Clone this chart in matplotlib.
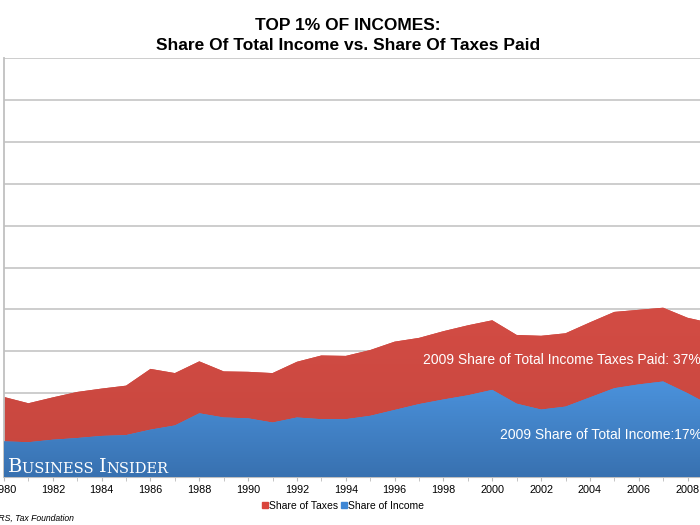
import numpy as np
import matplotlib
matplotlib.use("Agg")
import matplotlib.pyplot as plt
from matplotlib.colors import LinearSegmentedColormap
from matplotlib.lines import Line2D

plt.rcParams["font.family"] = ["Liberation Sans", "DejaVu Sans"]

years = np.arange(1980, 2010)
share_of_taxes = [19.1, 17.6, 19.0, 20.3, 21.1, 21.8, 25.8, 24.8, 27.6, 25.2,
                  25.1, 24.8, 27.5, 29.0, 28.9, 30.3, 32.3, 33.2, 34.8, 36.2,
                  37.4, 33.9, 33.7, 34.3, 36.9, 39.4, 39.9, 40.4, 38.0, 36.7]
share_of_income = [8.5, 8.3, 8.9, 9.3, 9.8, 10.0, 11.3, 12.3, 15.2, 14.2,
                   14.0, 13.0, 14.2, 13.8, 13.8, 14.6, 16.0, 17.4, 18.5, 19.5,
                   20.8, 17.5, 16.1, 16.8, 19.0, 21.2, 22.1, 22.8, 20.0, 16.9]
year_ticks = list(range(1980, 2010, 2))

red_top, red_bot = "#d34c44", "#c6463e"
blue_top, blue_bot = "#4b92dc", "#3871b0"


def gradient_area(ax, x, y, c_top, c_bot, z):
    poly = ax.fill_between(x, 0, y, color=c_top, lw=0, zorder=z)
    cmap = LinearSegmentedColormap.from_list("g", [c_bot, c_top])
    grad = np.linspace(0, 1, 256).reshape(-1, 1)
    im = ax.imshow(grad, cmap=cmap, aspect="auto", origin="lower",
                   extent=[x[0], x[-1], 0, max(y)], zorder=z + 0.1)
    im.set_clip_path(poly.get_paths()[0], ax.transData)


fig = plt.figure(figsize=(7, 5.25), dpi=100)
# plot area runs past the right edge of the picture, as in the reference
ax = fig.add_axes([4 / 700, 48 / 525, 708 / 700, 419 / 525])

gradient_area(ax, years, share_of_taxes, red_top, red_bot, 2)
gradient_area(ax, years, share_of_income, blue_top, blue_bot, 3)

ax.set_xlim(1980, 2009)
ax.set_ylim(0, 100)
ax.set_yticks(range(0, 101, 10))
ax.set_yticklabels([])
ax.tick_params(axis="y", length=0)
ax.grid(axis="y", color="#c9c9c9", lw=1.3, zorder=1)
ax.set_axisbelow(True)
ax.set_xticks(year_ticks)
ax.set_xticks(years, minor=True)
ax.tick_params(axis="x", which="both", length=3, color="#bbbbbb",
               labelsize=7.8, pad=3)
for s in ["top", "right"]:
    ax.spines[s].set_visible(False)
ax.spines["left"].set_color("#c0c0c0")
ax.spines["left"].set_linewidth(1.3)
ax.spines["bottom"].set_color("#c0c0c0")

fig.text(0.497, 1 - 25 / 525, "TOP 1% OF INCOMES:", ha="center", va="center",
         fontsize=12.5, fontweight="bold")
fig.text(0.497, 1 - 45 / 525, "Share Of Total Income vs. Share Of Taxes Paid",
         ha="center", va="center", fontsize=12.5, fontweight="bold")

fig.text(423 / 700, 1 - 360 / 525, "2009 Share of Total Income Taxes Paid: 37%",
         color="white", fontsize=10, va="center")
fig.text(500 / 700, 1 - 435 / 525, "2009 Share of Total Income:17%",
         color="white", fontsize=10, va="center")

# watermark in small caps
t = fig.text(8 / 700, 1 - 472 / 525, "B", color="white", fontsize=14,
             family="DejaVu Serif", va="baseline", zorder=10)
parts = [("USINESS ", 10.5), ("I", 14), ("NSIDER", 10.5)]
for txt, fs in parts:
    t = ax.annotate(txt, xy=(1, 0), xycoords=t, va="bottom", ha="left",
                    color="white", fontsize=fs, family="DejaVu Serif",
                    annotation_clip=False, zorder=10)

handles = [Line2D([], [], marker="s", ls="", color="#d9453c", markersize=4),
           Line2D([], [], marker="s", ls="", color="#3e86d4", markersize=4)]
fig.legend(handles, ["Share of Taxes", "Share of Income"], loc="center",
           bbox_to_anchor=(343 / 700, 1 - 506 / 525), ncol=2, frameon=False,
           fontsize=7.5, handlelength=0.6, handletextpad=0.1, columnspacing=0.3)

fig.text(74 / 700, 1 - 518 / 525, "Source: IRS, Tax Foundation", ha="right",
         va="center", fontsize=6.2, style="italic")

fig.savefig("out.png", dpi=100)
